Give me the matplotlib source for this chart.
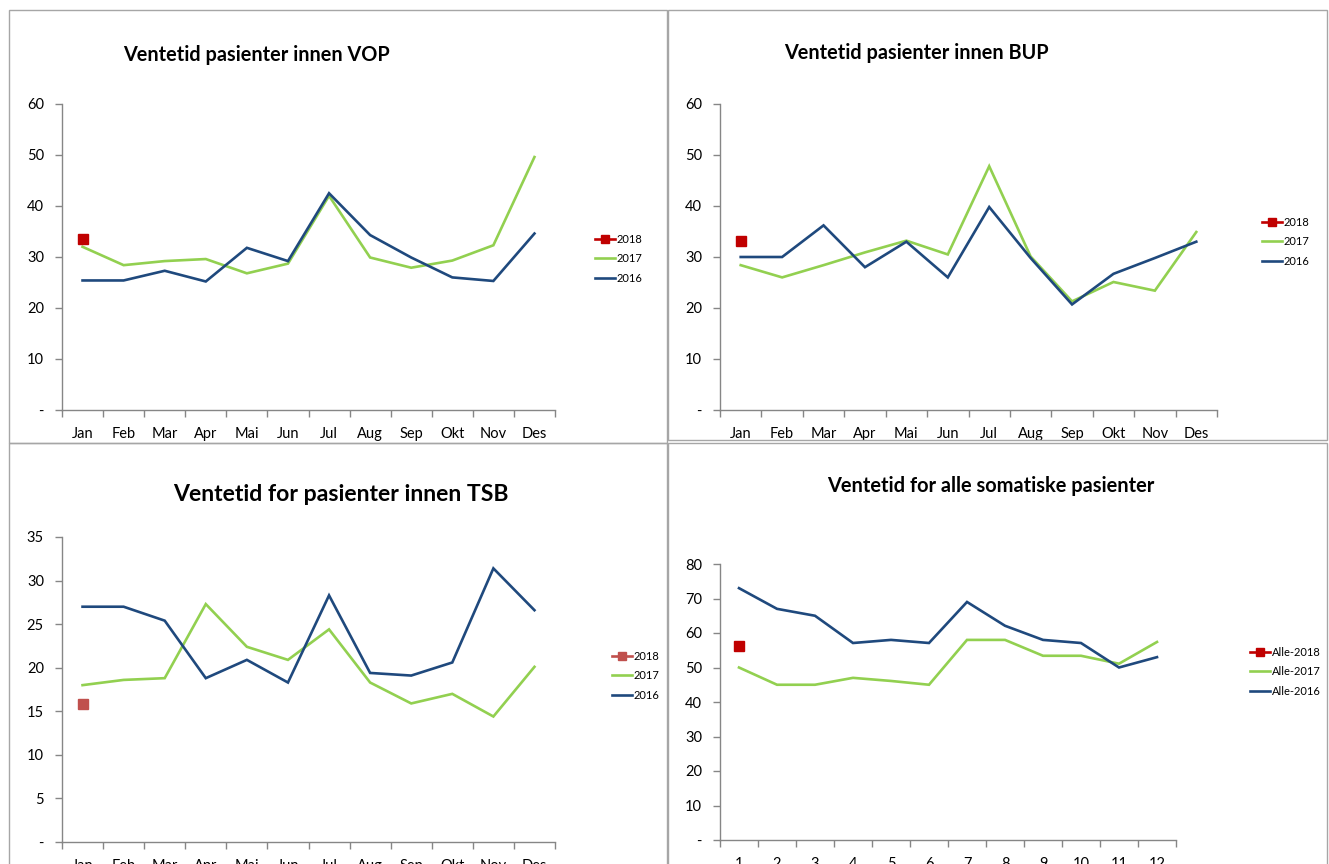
import matplotlib
matplotlib.use("Agg")
import matplotlib.pyplot as plt
from matplotlib.lines import Line2D
from matplotlib.patches import Rectangle

plt.rcParams["font.family"] = ["Lato", "DejaVu Sans"]

W, H = 1329, 864

months = ["Jan", "Feb", "Mar", "Apr", "Mai", "Jun", "Jul", "Aug", "Sep", "Okt", "Nov", "Des"]
month_nums = [str(i) for i in range(1, 13)]

vop_2018 = [33.5]
vop_2017 = [32.0, 28.4, 29.2, 29.6, 26.8, 28.7, 42.0, 29.9, 27.9, 29.3, 32.3, 49.6]
vop_2016 = [25.4, 25.4, 27.3, 25.2, 31.8, 29.2, 42.5, 34.3, 29.9, 26.0, 25.3, 34.6]

bup_2018 = [33.1]
bup_2017 = [28.4, 26.0, 28.4, 30.9, 33.2, 30.5, 47.8, 30.1, 21.3, 25.1, 23.4, 34.9]
bup_2016 = [30.0, 30.0, 36.2, 28.0, 33.0, 26.0, 39.8, 29.8, 20.7, 26.7, 29.8, 33.0]

tsb_2018 = [15.8]
tsb_2017 = [18.0, 18.6, 18.8, 27.3, 22.4, 20.9, 24.4, 18.3, 15.9, 17.0, 14.4, 20.1]
tsb_2016 = [27.0, 27.0, 25.4, 18.8, 20.9, 18.3, 28.3, 19.4, 19.1, 20.6, 31.4, 26.6]

som_2018 = [56.3]
som_2017 = [50.0, 45.0, 45.0, 47.0, 46.1, 45.0, 58.0, 58.0, 53.4, 53.4, 51.1, 57.4]
som_2016 = [73.0, 67.0, 65.0, 57.1, 58.0, 57.1, 69.0, 62.1, 58.0, 57.1, 50.0, 53.0]

GREEN = "#92D050"
BLUE = "#1F497D"
RED = "#C00000"
RED_LIGHT = "#C0504D"
AXIS_GREY = "#868686"


def frac(left, top, right, bottom):
    return [left / W, 1 - bottom / H, (right - left) / W, (bottom - top) / H]


def panel(fig, box, axbox, title, title_xy, title_size, cats, s18, s17, s16,
          ymax, ystep, labels, leg_xy, red=RED):
    # grey frame round each chart
    l, t, r, b = box
    fig.patches.append(Rectangle((l / W, 1 - b / H), (r - l) / W, (b - t) / H,
                                 transform=fig.transFigure, fill=False,
                                 edgecolor="#A6A6A6", linewidth=1.0))
    ax = fig.add_axes(frac(*axbox))
    x = list(range(12))
    ax.plot(x, s17, color=GREEN, lw=1.9, solid_joinstyle="miter")
    ax.plot(x, s16, color=BLUE, lw=1.9, solid_joinstyle="miter")
    ax.plot(x[:len(s18)], s18, color=red, lw=1.9, marker="s", ms=7.5,
            linestyle="none")

    ax.set_xlim(-0.5, 11.5)
    ax.set_ylim(0, ymax)
    ax.set_xticks([i - 0.5 for i in range(13)])
    ax.set_xticklabels([])
    ax.set_xticks(x, minor=True)
    ax.set_xticklabels(cats, minor=True, fontsize=10.5)
    ax.tick_params(axis="x", which="major", length=5, color=AXIS_GREY, width=1)
    ax.tick_params(axis="x", which="minor", length=0, pad=12)
    yt = list(range(0, ymax + 1, ystep))
    ax.set_yticks(yt)
    ax.set_yticklabels(["-"] + [str(v) for v in yt[1:]], fontsize=10.5)
    ax.tick_params(axis="y", length=5, color=AXIS_GREY, width=1, pad=8)
    for side in ("top", "right"):
        ax.spines[side].set_visible(False)
    for side in ("left", "bottom"):
        ax.spines[side].set_color(AXIS_GREY)
        ax.spines[side].set_linewidth(1)

    fig.text(title_xy[0] / W, 1 - title_xy[1] / H, title, ha="center",
             va="center", fontsize=title_size, fontweight="bold")

    handles = [
        Line2D([], [], color=red, lw=1.9, marker="s", ms=6),
        Line2D([], [], color=GREEN, lw=1.9),
        Line2D([], [], color=BLUE, lw=1.9),
    ]
    ax.legend(handles, labels, loc="upper left", frameon=False, fontsize=8,
              bbox_to_anchor=(leg_xy[0] / W, 1 - leg_xy[1] / H),
              bbox_transform=fig.transFigure, handlelength=1.8,
              handletextpad=0.15, labelspacing=0.75, borderpad=0,
              borderaxespad=0)
    return ax


fig = plt.figure(figsize=(W / 100, H / 100), dpi=100)

panel(fig, (9, 10, 667, 443), (62, 104, 555, 410),
      "Ventetid pasienter innen VOP", (256, 55), 14.3,
      months, vop_2018, vop_2017, vop_2016, 60, 10,
      ["2018", "2017", "2016"], (595, 234))

panel(fig, (668, 10, 1327, 440), (720, 104, 1217, 410),
      "Ventetid pasienter innen BUP", (916, 53), 14.3,
      months, bup_2018, bup_2017, bup_2016, 60, 10,
      ["2018", "2017", "2016"], (1262, 217))

panel(fig, (9, 443, 667, 866), (62, 537, 555, 842),
      "Ventetid for pasienter innen TSB", (341, 494), 16.6,
      months, tsb_2018, tsb_2017, tsb_2016, 35, 5,
      ["2018", "2017", "2016"], (612, 651), red=RED_LIGHT)

panel(fig, (668, 443, 1327, 866), (720, 564, 1176, 840),
      "Ventetid for alle somatiske pasienter", (991, 486), 14.4,
      month_nums, som_2018, som_2017, som_2016, 80, 10,
      ["Alle-2018", "Alle-2017", "Alle-2016"], (1250, 647))

fig.savefig("out.png", dpi=100)
